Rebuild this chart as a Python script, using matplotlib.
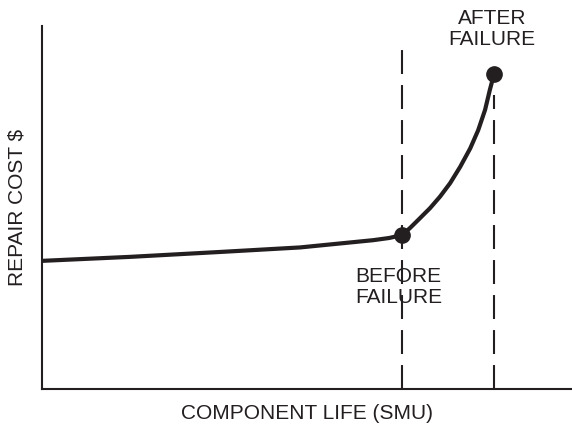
import matplotlib
matplotlib.use("Agg")
import matplotlib.pyplot as plt

# curve (arbitrary units, axes 0-100)
life = [0, 16.6, 34.2, 48.7, 62.5, 65.5, 67.9, 69.4, 71.0, 73.2, 75.1, 77.0,
        78.9, 80.8, 82.3, 83.6, 84.5, 85.3]
cost = [35.3, 36.4, 37.8, 39.0, 41.0, 41.6, 42.4, 44.3, 46.6, 49.8, 53.0, 56.7,
        61.2, 66.3, 71.3, 76.9, 82.4, 86.8]

before_x, before_y = 67.9, 42.4
after_x, after_y = 85.3, 86.8

ink = "#231f20"
plt.rcParams['font.family'] = ['Liberation Sans', 'DejaVu Sans']

fig = plt.figure(figsize=(5.72, 4.30), dpi=100)
ax = fig.add_axes([42 / 572, 41 / 430, 530 / 572, 363 / 430])
ax.set_xlim(0, 100)
ax.set_ylim(0, 100)

# dashed markers for the two points in component life
ax.plot([before_x, before_x], [0, 96], color=ink, lw=1.5, dashes=(11.5, 5.3))
ax.plot([after_x, after_x], [0, 81], color=ink, lw=1.5, dashes=(11.5, 5.3))

ax.plot(life, cost, color=ink, lw=3, solid_capstyle='round', solid_joinstyle='round')
ax.plot([before_x, after_x], [before_y, after_y], 'o', color=ink, ms=11, ls='none')

ax.text(before_x - 0.6, 33.5, "BEFORE\nFAILURE", ha='center', va='top',
        fontsize=15, color=ink, linespacing=1.1)
ax.text(after_x - 0.4, 104.6, "AFTER\nFAILURE", ha='center', va='top',
        fontsize=15, color=ink, linespacing=1.1, clip_on=False)

for side in ['top', 'right']:
    ax.spines[side].set_visible(False)
for side in ['left', 'bottom']:
    ax.spines[side].set_linewidth(1.5)
    ax.spines[side].set_color(ink)
ax.set_xticks([])
ax.set_yticks([])

ax.set_xlabel("COMPONENT LIFE (SMU)", fontsize=15, color=ink, labelpad=11)
ax.set_ylabel("REPAIR COST $", fontsize=15, color=ink, labelpad=11)

fig.savefig("out.png", dpi=100)
